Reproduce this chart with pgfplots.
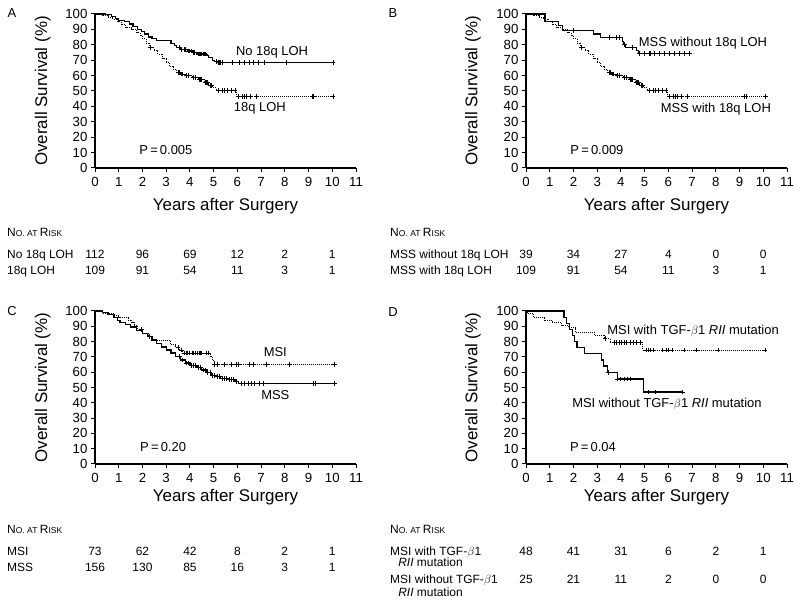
\documentclass[border=0pt]{standalone}
\usepackage{fontspec}
\setmainfont{Liberation Sans}
\usepackage{pgfplots}
\pgfplotsset{compat=1.18}

\newcommand{\tfont}{\fontsize{12}{13}\selectfont}
\newcommand{\smcap}{\fontsize{8.6}{9}\selectfont}
\tikzset{risk/.style={font=\tfont, anchor=base, inner sep=0pt},
         rlab/.style={font=\tfont, anchor=base west, inner sep=0pt},
         inlab/.style={font=\fontsize{13}{14}\selectfont, anchor=center, inner sep=0pt}}
\newcommand{\riskrow}[7]{%
  \node[risk] at (axis cs:0,#1) {#2};
  \node[risk] at (axis cs:2,#1) {#3};
  \node[risk] at (axis cs:4,#1) {#4};
  \node[risk] at (axis cs:6,#1) {#5};
  \node[risk] at (axis cs:8,#1) {#6};
  \node[risk] at (axis cs:10,#1) {#7};}
\newcommand{\riskhead}{N{\smcap O. AT }R{\smcap ISK}}

\pgfplotsset{
  km/.style={
    scale only axis, width=261bp, height=154bp,
    xmin=0, xmax=11, ymin=0, ymax=100,
    axis lines=left, axis line style={-, line width=1.1bp},
    xtick={0,1,...,11}, ytick={0,10,...,100},
    tick align=outside, major tick length=4bp,
    tick style={line width=1bp, black},
    /pgf/number format/assume math mode=true,
    ticklabel style={font=\fontsize{13.3}{14}\selectfont},
    xticklabel style={yshift=-1.5bp},
    clip=false,
    ylabel={Overall Survival (\%)},
    xlabel={Years after Surgery},
    label style={font=\fontsize{17}{18}\selectfont},
  },
  solidkm/.style={const plot, black, line width=1.2bp, mark=none},
  dotkm/.style={const plot, black, line width=1bp, densely dotted, mark=none},
  censor/.style={only marks, mark=+, mark size=2.4bp, black, mark options={line width=0.85bp, solid}},
}

\begin{document}
\begin{tikzpicture}
\useasboundingbox (0,0) rectangle (800bp,606bp);
\node[font=\fontsize{13}{14}\selectfont] at (12bp,593bp) {A};
\node[font=\fontsize{13}{14}\selectfont] at (393bp,593bp) {B};
\node[font=\fontsize{13}{14}\selectfont] at (12bp,295bp) {C};
\node[font=\fontsize{13}{14}\selectfont] at (393bp,294bp) {D};

% ---------------- Panel A ----------------
\begin{axis}[km, at={(95bp,438bp)}, anchor=south west,
  ylabel style={at={(axis description cs:-0.2,0.5)}, anchor=center},
  xlabel style={at={(axis description cs:0.5,-0.273)}, anchor=base}]
\addplot[solidkm] coordinates {(0,100)(0.45,99.5)(0.7,98.5)(0.85,97)(1.0,96)(1.25,95)(1.45,93.5)(1.6,92)(1.8,90)(1.95,88.5)(2.1,87)(2.25,85)(2.4,84)(2.6,83)(3.2,81)(3.35,79.5)(3.45,78)(3.6,77)(3.9,76)(4.1,75)(4.3,74)(4.7,73)(4.8,71.5)(4.95,70)(5.05,69)(5.15,68.5)(10.03,68.5)};
\addplot[censor] coordinates {(3.55,78)(3.65,77)(3.75,77)(3.8,77)(3.95,76)(4.0,76)(4.05,76)(4.15,75)(4.2,75)(4.35,74)(4.4,74)(4.45,74)(4.5,74)(4.55,74)(4.6,74)(4.65,74)(5.1,69)(5.2,68.5)(5.25,68.5)(5.3,68.5)(5.35,68.5)(5.8,68.5)(6.1,68.5)(6.3,68.5)(6.5,68.5)(6.66,68.5)(6.87,68.5)(7.15,68.5)(8.06,68.5)(10.03,68.5)};
\addplot[dotkm] coordinates {(0,100)(0.3,99)(0.55,98)(0.75,96.5)(0.95,95)(1.1,93)(1.3,91)(1.55,90)(1.75,88)(1.9,86)(2.0,84)(2.15,81)(2.3,78)(2.5,76)(2.65,74)(2.85,71)(3.0,68.5)(3.15,66)(3.3,64)(3.45,62)(3.6,61)(3.8,60)(4.1,59)(4.35,57.5)(4.6,55.5)(4.8,53.5)(4.95,52)(5.1,50.5)(5.95,46.5)(10.03,46.5)};
\addplot[censor] coordinates {(2.35,78)(3.5,62)(3.55,62)(3.65,61)(3.7,61)(3.85,60)(3.95,60)(4.15,59)(4.25,59)(4.4,57.5)(4.45,57.5)(4.5,57.5)(4.65,55.5)(4.7,55.5)(4.75,55.5)(4.85,53.5)(4.9,53.5)(5.2,50.5)(5.35,50.5)(5.45,50.5)(5.6,50.5)(5.75,50.5)(5.9,50.5)(6.05,46.5)(6.2,46.5)(6.3,46.5)(6.4,46.5)(6.55,46.5)(6.8,46.5)(9.15,46.5)(9.22,46.5)(10.03,46.5)};
\node[inlab] at (axis cs:7.46,75.3) {No 18q LOH};
\node[inlab] at (axis cs:6.95,39) {18q LOH};
\node[inlab] at (axis cs:2.99,11.7) {P\,=\,0.005};
\node[rlab] at (axis cs:-3.71,-44.6) {\riskhead};
\node[rlab] at (axis cs:-3.71,-58.6) {No 18q LOH};
\node[rlab] at (axis cs:-3.71,-69.2) {18q LOH};
\riskrow{-58.6}{112}{96}{69}{12}{2}{1}
\riskrow{-69.2}{109}{91}{54}{11}{3}{1}
\end{axis}

% ---------------- Panel B ----------------
\begin{axis}[km, at={(526bp,438bp)}, anchor=south west,
  ylabel style={at={(axis description cs:-0.203,0.5)}, anchor=center},
  xlabel style={at={(axis description cs:0.5,-0.273)}, anchor=base}]
\addplot[solidkm] coordinates {(0,100)(0.8,95)(1.38,92.5)(1.55,89.5)(2.85,87)(3.13,84.5)(4.05,82)(4.12,80)(4.2,78)(4.65,76.5)(4.75,74.5)(6.9,74.5)};
\addplot[censor] coordinates {(1.98,89.5)(3.53,84.5)(3.81,84.5)(3.95,84.5)(4.15,80)(4.5,78)(4.79,74.5)(5.0,74.5)(5.19,74.5)(5.25,74.5)(5.42,74.5)(5.63,74.5)(5.85,74.5)(6.06,74.5)(6.27,74.5)(6.48,74.5)(6.69,74.5)(6.9,74.5)};
\addplot[dotkm] coordinates {(0,100)(0.3,99)(0.55,98)(0.75,96.5)(0.95,95)(1.1,93)(1.3,91)(1.55,90)(1.75,88)(1.9,86)(2.0,84)(2.15,81)(2.3,78)(2.5,76)(2.65,74)(2.85,71)(3.0,68.5)(3.15,66)(3.3,64)(3.45,62)(3.6,61)(3.8,60)(4.1,59)(4.35,57.5)(4.6,55.5)(4.8,53.5)(4.95,52)(5.1,50.5)(5.95,46.5)(10.1,46.5)};
\addplot[censor] coordinates {(2.35,78)(3.5,62)(3.55,62)(3.65,61)(3.7,61)(3.85,60)(3.95,60)(4.15,59)(4.25,59)(4.4,57.5)(4.45,57.5)(4.5,57.5)(4.65,55.5)(4.7,55.5)(4.75,55.5)(4.85,53.5)(4.9,53.5)(5.2,50.5)(5.35,50.5)(5.45,50.5)(5.6,50.5)(5.75,50.5)(5.9,50.5)(6.05,46.5)(6.2,46.5)(6.3,46.5)(6.4,46.5)(6.55,46.5)(6.8,46.5)(9.2,46.5)(9.27,46.5)(10.1,46.5)};
\node[inlab] at (axis cs:7.46,81) {MSS without 18q LOH};
\node[inlab] at (axis cs:8.0,38.3) {MSS with 18q LOH};
\node[inlab] at (axis cs:2.99,11.7) {P\,=\,0.009};
\node[rlab] at (axis cs:-5.73,-44.6) {\riskhead};
\node[rlab] at (axis cs:-5.73,-58.6) {MSS without 18q LOH};
\node[rlab] at (axis cs:-5.73,-69.2) {MSS with 18q LOH};
\riskrow{-58.6}{39}{34}{27}{4}{0}{0}
\riskrow{-69.2}{109}{91}{54}{11}{3}{1}
\end{axis}

% ---------------- Panel C ----------------
\begin{axis}[km, at={(95bp,142bp)}, anchor=south west, height=153bp,
  ylabel style={at={(axis description cs:-0.2,0.5)}, anchor=center},
  xlabel style={at={(axis description cs:0.5,-0.246)}, anchor=base}]
\addplot[solidkm] coordinates {(0,100)(0.3,99)(0.55,97.5)(0.8,96)(0.95,94)(1.05,92.5)(1.3,91)(1.5,89.5)(1.75,87.5)(2.0,85.5)(2.2,83.5)(2.4,81)(2.6,78.5)(2.8,76.5)(3.0,74.5)(3.2,72.5)(3.4,70)(3.6,68)(3.8,66)(4.0,64.5)(4.3,63)(4.5,61.5)(4.7,60)(4.9,58)(5.1,57)(5.3,56)(5.6,55)(5.9,54)(6.05,52.5)(10.1,52.5)};
\addplot[censor] coordinates {(2.3,83.5)(3.55,70)(3.7,68)(3.85,66)(3.95,66)(4.05,64.5)(4.15,64.5)(4.25,64.5)(4.35,63)(4.45,63)(4.55,61.5)(4.65,61.5)(4.75,60)(4.85,60)(4.95,58)(5.05,58)(5.15,57)(5.25,57)(5.35,56)(5.45,56)(5.55,56)(5.65,55)(5.75,55)(5.85,55)(5.95,54)(6.17,52.5)(6.31,52.5)(6.45,52.5)(6.59,52.5)(6.73,52.5)(6.94,52.5)(7.08,52.5)(9.22,52.5)(9.3,52.5)(10.1,52.5)};
\addplot[dotkm] coordinates {(0,100)(0.3,98.5)(0.8,97)(1.0,95.5)(1.4,94)(1.55,92.5)(1.65,90.5)(1.8,88)(2.0,85.5)(2.25,83.5)(2.4,80.5)(3.2,78)(3.4,76)(3.55,74.5)(3.7,72.5)(4.85,70)(4.95,67.5)(5.05,65)(10.1,65)};
\addplot[censor] coordinates {(1.95,88)(3.5,76)(3.64,74.5)(3.75,72.5)(3.85,72.5)(3.9,72.5)(4.0,72.5)(4.1,72.5)(4.15,72.5)(4.25,72.5)(4.3,72.5)(4.4,72.5)(4.45,72.5)(4.5,72.5)(4.7,72.5)(4.78,72.5)(5.04,65)(5.18,65)(5.47,65)(5.74,65)(5.95,65)(6.05,65)(6.52,65)(6.66,65)(7.22,65)(8.2,65)(10.1,65)};
\node[inlab] at (axis cs:7.6,73) {MSI};
\node[inlab] at (axis cs:7.6,45) {MSS};
\node[inlab] at (axis cs:2.87,11) {P\,=\,0.20};
\node[rlab] at (axis cs:-3.71,-45.3) {\riskhead};
\node[rlab] at (axis cs:-3.71,-59.5) {MSI};
\node[rlab] at (axis cs:-3.71,-70.4) {MSS};
\riskrow{-59.5}{73}{62}{42}{8}{2}{1}
\riskrow{-70.4}{156}{130}{85}{16}{3}{1}
\end{axis}

% ---------------- Panel D ----------------
\begin{axis}[km, at={(526bp,142bp)}, anchor=south west, height=153bp,
  ylabel style={at={(axis description cs:-0.203,0.5)}, anchor=center},
  xlabel style={at={(axis description cs:0.5,-0.246)}, anchor=base}]
\addplot[solidkm] coordinates {(0,100)(1.6,96)(1.72,92)(1.82,88)(1.95,84)(2.05,80)(2.15,76)(2.45,72)(3.18,68)(3.28,64)(3.45,60)(3.85,55.5)(4.95,47)(6.6,47)};
\addplot[censor] coordinates {(3.46,60)(3.85,55.5)(3.99,55.5)(4.13,55.5)(4.27,55.5)(4.41,55.5)(5.15,47)(5.44,47)(6.58,47)};
\addplot[dotkm] coordinates {(0,100)(0.05,98.5)(0.3,96)(0.8,94)(1.1,92.5)(1.5,90.5)(1.8,89)(2.1,86)(2.9,84)(3.3,82)(3.55,79.5)(4.9,74.5)(10.1,74.5)};
\addplot[censor] coordinates {(3.33,82)(3.71,79.5)(3.82,79.5)(3.92,79.5)(4.03,79.5)(4.13,79.5)(4.24,79.5)(4.38,79.5)(4.52,79.5)(4.66,79.5)(4.83,79.5)(5.06,74.5)(5.15,74.5)(5.25,74.5)(5.35,74.5)(5.77,74.5)(5.9,74.5)(6.02,74.5)(6.15,74.5)(6.66,74.5)(7.2,74.5)(8.09,74.5)(10.07,74.5)};
\node[inlab] at (axis cs:7.04,87) {MSI with TGF-$\beta$1 \textit{RII} mutation};
\node[inlab] at (axis cs:5.94,39) {MSI without TGF-$\beta$1 \textit{RII} mutation};
\node[inlab] at (axis cs:2.82,11) {P\,=\,0.04};
\node[rlab] at (axis cs:-5.73,-45.3) {\riskhead};
\node[rlab] at (axis cs:-5.73,-59.5) {MSI with TGF-$\beta$1};
\node[rlab] at (axis cs:-5.39,-67.1) {\textit{RII} mutation};
\node[rlab] at (axis cs:-5.73,-78) {MSI without TGF-$\beta$1};
\node[rlab] at (axis cs:-5.39,-86.9) {\textit{RII} mutation};
\riskrow{-59.5}{48}{41}{31}{6}{2}{1}
\riskrow{-78}{25}{21}{11}{2}{0}{0}
\end{axis}
\end{tikzpicture}
\end{document}
